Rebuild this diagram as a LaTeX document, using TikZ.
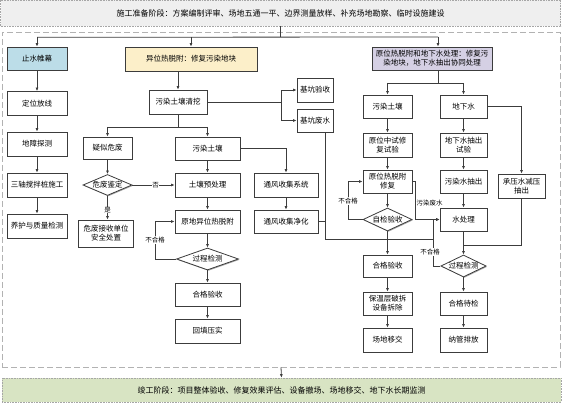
\documentclass[tikz,border=0pt]{standalone}
\usepackage{fontspec}
\newfontfamily\cjk{Noto Sans CJK SC}
\usetikzlibrary{shapes.geometric,arrows.meta,shadows}
\definecolor{lc}{HTML}{3C3C3C}
\definecolor{hblue}{HTML}{BCDDE8}
\definecolor{hyellow}{HTML}{FCEFC9}
\definecolor{hpurple}{HTML}{D5D0E4}
\definecolor{topgray}{HTML}{EFEFEF}
\definecolor{botgreen}{HTML}{D8E4C3}
\begin{document}
\begin{tikzpicture}[x=1pt,y=-1pt,
  box/.style={draw=lc, line width=0.8pt, fill=white, inner sep=1pt, align=center,
    font=\cjk\fontsize{7.5}{9}\selectfont, text=black,
    drop shadow={shadow xshift=0.9pt, shadow yshift=-0.9pt, fill=gray!70, opacity=1}},
  sz/.style 2 args={minimum width=#1pt, minimum height=#2pt},
  dia/.style={box, diamond, aspect=2.2, inner sep=0pt},
  ln/.style={draw=lc, line width=0.8pt},
  arr/.style={ln, -{Latex[length=3.5pt,width=3pt]}},
  lab/.style={fill=white, inner sep=0.5pt, font=\cjk\fontsize{6.5}{7}\selectfont},
  banner/.style={draw=gray!70, densely dotted, line width=0.6pt, inner sep=1pt,
    font=\cjk\fontsize{8}{9}\selectfont}]
\useasboundingbox (0,0) rectangle (562,403);

% banners and container
\node[banner, fill=topgray, sz={560}{26}] (top) at (280.5,13)
  {施工准备阶段：方案编制评审、场地五通一平、边界测量放样、补充场地勘察、临时设施建设};
\node[draw=gray!60, dashed, dash pattern=on 6pt off 3pt, line width=0.9pt, sz={558}{335}] (cont) at (281,199.5) {};
\node[banner, fill=botgreen, sz={559}{24}] (bot) at (281.5,390)
  {竣工阶段：项目整体验收、修复效果评估、设备撤场、场地移交、地下水长期监测};

% headers
\node[box, fill=hblue, sz={60}{23}] (hA) at (37,58.5) {止水帷幕};
\node[box, fill=hyellow, sz={132}{24}] (hB) at (191,59) {异位热脱附：修复污染地块};
\node[box, fill=hpurple, sz={120}{23}] (hC) at (432,58.5) {原位热脱附和地下水处理：修复污\\染地块，地下水抽出协同处理};

% column A
\node[box, sz={60}{24}] (a1) at (37,103.5) {定位放线};
\node[box, sz={60}{24}] (a2) at (37,144) {地障探测};
\node[box, sz={60}{24}] (a3) at (37,185) {三轴搅拌桩施工};
\node[box, sz={60}{24}] (a4) at (37,226) {养护与质量检测};

% column B
\node[box, sz={58}{24}] (b1) at (178,102) {污染土壤清挖};
\node[box, sz={49}{22}] (b2) at (107.5,148) {疑似危废};
\node[box, sz={65}{23}] (b3) at (207.5,148.5) {污染土壤};
\node[dia, sz={49}{21}] (d1) at (107.5,185) {危废鉴定};
\node[box, sz={55}{27}] (b4) at (106,233.5) {危废接收单位\\安全处置};
\node[box, sz={65}{24}] (b5) at (207.5,185) {土壤预处理};
\node[box, sz={65}{23}] (b6) at (207.5,221.5) {原地异位热脱附};
\node[dia, sz={62}{22}] (d2) at (207.5,259) {过程检测};
\node[box, sz={65}{23}] (b7) at (207.5,294.5) {合格验收};
\node[box, sz={65}{24}] (b8) at (207.5,331) {回填压实};

% middle
\node[box, sz={36}{24}] (m1) at (315,90) {基坑验收};
\node[box, sz={36}{23}] (m2) at (315,120.5) {基坑废水};
\node[box, sz={64}{24}] (m3) at (286,185) {通风收集系统};
\node[box, sz={64}{23}] (m4) at (286,221.5) {通风收集净化};

% column C left
\node[box, sz={49}{23}] (c1) at (387.5,106.5) {污染土壤};
\node[box, sz={49}{24}] (c2) at (387.5,145) {原位中试修\\复试验};
\node[box, sz={49}{23}] (c3) at (387.5,181.5) {原位热脱附\\修复};
\node[dia, sz={49}{23}] (d3) at (387.5,219.5) {自检验收};
\node[box, sz={49}{22}] (c4) at (387.5,266) {合格验收};
\node[box, sz={49}{23}] (c5) at (387.5,303.5) {保温层破拆\\设备拆除};
\node[box, sz={49}{24}] (c6) at (387.5,340) {场地移交};

% column C right
\node[box, sz={47}{23}] (r1) at (463.5,106.5) {地下水};
\node[box, sz={47}{24}] (r2) at (463.5,145) {地下水抽出\\试验};
\node[box, sz={47}{23}] (r3) at (463.5,181.5) {污染水抽出};
\node[box, sz={47}{23}] (r4) at (463.5,219.5) {水处理};
\node[dia, sz={45}{22}] (d4) at (463.5,266) {过程检测};
\node[box, sz={47}{23}] (r5) at (463.5,303.5) {合格待检};
\node[box, sz={47}{24}] (r6) at (463.5,340) {纳管排放};
\node[box, sz={47}{24}] (r7) at (521.5,186) {承压水减压\\抽出};

% ---- connectors ----
\path (top.south) ++(0,11) coordinate (j0);
\coordinate (jC) at (438,37);
\draw[ln] (top.south) -- (j0);
\draw[ln] (hA.north |- j0) -- (jC);
\draw[arr] (hA.north |- j0) -- (hA.north);
\draw[arr] (hB.north |- j0) -- (hB.north);
\draw[arr] (jC) -- (jC |- hC.north);
\draw[arr] (cont.south) -- (bot.north);

% column A
\draw[arr] (hA) -- (a1);
\draw[arr] (a1) -- (a2);
\draw[arr] (a2) -- (a3);
\draw[arr] (a3) -- (a4);

% column B
\draw[arr] (b1.north |- hB.south) -- (b1.north);
\coordinate (j1) at (178,127);
\draw[ln] (b1.south) -- (j1);
\draw[ln] (b2.north |- j1) -- (b3.north |- j1);
\draw[arr] (b2.north |- j1) -- (b2.north);
\draw[arr] (b3.north |- j1) -- (b3.north);
\coordinate (j2) at (281,102);
\draw[ln] (b1.east) -- (j2);
\draw[arr] (j2) |- (m1.west);
\draw[arr] (j2) |- (m2.west);
\draw[arr] (b3.east) -| (m3.north);
\draw[arr] (m3) -- (m4);
\draw[arr] (b2) -- (d1);
\draw[arr] (d1.south) -- node[lab, pos=0.6]{是} (d1.south |- b4.north);
\draw[arr] (d1.east) -- node[lab, pos=0.55]{否} (b5.west);
\draw[arr] (b3) -- (b5);
\draw[arr] (b5) -- (b6);
\draw[arr] (b6) -- (d2);
\draw[arr] (d2) -- (b7);
\draw[arr] (b7) -- (b8);
\coordinate (j8) at (155,0);
\draw[arr] (d2.west) -| (j8 |- b6.west) -- (b6.west);
\node[lab] (l1) at (155,240) {不合格};

% water collection lines
\coordinate (j3) at (325,239);
\coordinate (j4) at (433,239);
\draw[ln] (m2.south -| j3) -- (j3) -- (j4);
\draw[ln] (m4.east) -- (m4.east -| j3);

% column C
\coordinate (j9) at (438,83);
\draw[ln] (j9 |- hC.south) -- (j9);
\draw[ln] (c1.north |- j9) -- (r1.north |- j9);
\draw[arr] (c1.north |- j9) -- (c1.north);
\draw[arr] (r1.north |- j9) -- (r1.north);
\draw[arr] (c1) -- (c2);
\draw[arr] (c2) -- (c3);
\draw[arr] (c3) -- (d3);
\draw[arr] (d3) -- (c4);
\draw[arr] (c4) -- (c5);
\draw[arr] (c5) -- (c6);
\coordinate (j7) at (348,0);
\draw[arr] (d3.west) -| (j7 |- c3.west) -- (c3.west);
\node[lab] (l2) at (348,201) {不合格};
\coordinate (j6) at (415,0);
\draw[arr] (c3.east) -| (j6 |- r4.west) -- (r4.west);
\node[lab, anchor=west] (l3) at (416,203) {污染废水};

\draw[arr] (r1) -- (r2);
\draw[arr] (r2) -- (r3);
\draw[arr] (r3) -- (r4);
\draw[arr] (r4) -- (d4);
\draw[arr] (d4) -- (r5);
\draw[arr] (r5) -- (r6);
\draw[arr] (r1.east) -| (r7.north);
\coordinate (j10) at (0,245);
\draw[ln] (r7.south) |- (r4.south |- j10);
\draw[arr] (d4.west) -| (j4 |- r4.west) -- (r4.west);
\node[lab] (l4) at (430,252) {不合格};
\end{tikzpicture}
\end{document}
